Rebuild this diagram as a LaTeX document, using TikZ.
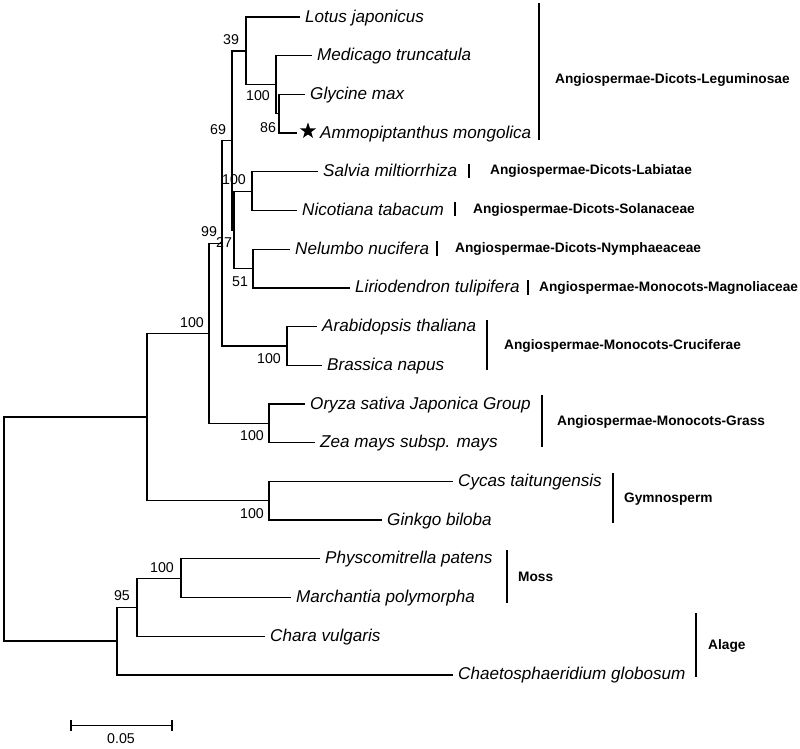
\documentclass[tikz,border=0pt]{standalone}
\usepackage{fontspec}
\setmainfont{Liberation Sans}
\usetikzlibrary{shapes.geometric}

\begin{document}
\begin{tikzpicture}[x=1pt, y=-1pt,
    branch/.style={black, line width=1.3pt},
    bar/.style={black, line width=2.3pt},
    taxon/.style={anchor=west, inner xsep=5pt, inner ysep=0pt, text height=10pt, text depth=0pt,
                  font=\fontsize{17.1}{20}\selectfont\itshape},
    group/.style={anchor=west, inner sep=0pt, text height=9.8pt, text depth=0pt,
                  font=\fontsize{13.7}{16}\selectfont\bfseries},
    boot/.style={inner sep=0pt, font=\fontsize{14.2}{16}\selectfont}]
            \useasboundingbox (0,0) rectangle (800,748);

            % inner nodes
            \coordinate (root) at (4,529);
            \coordinate (seed) at (147,417);
            \coordinate (angio) at (209,333.25);
            \coordinate (core) at (222,243.15);
            \coordinate (dicot) at (232,140.35);
            \coordinate (leg) at (246,50.85);
            \coordinate (legb) at (276,84.7);
            \coordinate (legc) at (279,113.75);
            \coordinate (mixed) at (234,229.85);
            \coordinate (labsol) at (252,191.15);
            \coordinate (nymmag) at (253,268.55);
            \coordinate (cruc) at (287,345.95);
            \coordinate (grass) at (269,423.35);
            \coordinate (gymno) at (269,500.75);
            \coordinate (nonseed) at (117,641);
            \coordinate (mosschara) at (137,607.2);
            \coordinate (moss) at (181,578.15);
            \coordinate (ammoend) at (297,133.1);

            % leaves
            \node[taxon] (lotus) at (300,17) {Lotus japonicus};
            \node[taxon] (medicago) at (312,55.7) {Medicago truncatula};
            \node[taxon] (glycine) at (305,94.4) {Glycine max};
            \node[star, star points=5, star point ratio=2.5, fill=black, inner sep=0pt, minimum size=17pt] (star) at (308,131) {};
            \node[taxon] (ammo) at (315,133.1) {Ammopiptanthus mongolica};
            \node[taxon] (salvia) at (318,171.8) {Salvia miltiorrhiza};
            \node[taxon] (nicotiana) at (297,210.5) {Nicotiana tabacum};
            \node[taxon] (nelumbo) at (290,249.2) {Nelumbo nucifera};
            \node[taxon] (lirio) at (350,287.9) {Liriodendron tulipifera};
            \node[taxon] (arab) at (317,326.6) {Arabidopsis thaliana};
            \node[taxon] (brassica) at (322,365.3) {Brassica napus};
            \node[taxon] (oryza) at (305,404) {Oryza sativa Japonica Group};
            \node[taxon] (zea) at (315,442.7) {Zea mays subsp. mays};
            \node[taxon] (cycas) at (453,481.4) {Cycas taitungensis};
            \node[taxon] (ginkgo) at (382,520.1) {Ginkgo biloba};
            \node[taxon] (physco) at (320,558.8) {Physcomitrella patens};
            \node[taxon] (march) at (291,597.5) {Marchantia polymorpha};
            \node[taxon] (chara) at (265,636.2) {Chara vulgaris};
            \node[taxon] (chaeto) at (453,674.9) {Chaetosphaeridium globosum};

            % branches
            \draw[branch] (root) |- (seed);
            \draw[branch] (root) |- (nonseed);
            \draw[branch] (seed) |- (angio);
            \draw[branch] (seed) |- (gymno);
            \draw[branch] (angio) |- (core);
            \draw[branch] (angio) |- (grass);
            \draw[branch] (core) |- (dicot);
            \draw[branch] (core) |- (cruc);
            \draw[branch] (dicot) |- (leg);
            \draw[branch] (dicot) |- (mixed);
            \draw[branch] (leg) |- (lotus.west);
            \draw[branch] (leg) |- (legb);
            \draw[branch] (legb) |- (medicago.west);
            \draw[branch] (legb) |- (legc);
            \draw[branch] (legc) |- (glycine.west);
            \draw[branch] (legc) |- (ammoend);
            \draw[branch] (mixed) |- (labsol);
            \draw[branch] (mixed) |- (nymmag);
            \draw[branch] (labsol) |- (salvia.west);
            \draw[branch] (labsol) |- (nicotiana.west);
            \draw[branch] (nymmag) |- (nelumbo.west);
            \draw[branch] (nymmag) |- (lirio.west);
            \draw[branch] (cruc) |- (arab.west);
            \draw[branch] (cruc) |- (brassica.west);
            \draw[branch] (grass) |- (oryza.west);
            \draw[branch] (grass) |- (zea.west);
            \draw[branch] (gymno) |- (cycas.west);
            \draw[branch] (gymno) |- (ginkgo.west);
            \draw[branch] (nonseed) |- (mosschara);
            \draw[branch] (nonseed) |- (chaeto.west);
            \draw[branch] (mosschara) |- (moss);
            \draw[branch] (mosschara) |- (chara.west);
            \draw[branch] (moss) |- (physco.west);
            \draw[branch] (moss) |- (march.west);

            % bootstrap values
            \node[boot] (bleg) at (231,40) {39};
            \node[boot] (blegb) at (258,96) {100};
            \node[boot] (blegc) at (268,127.5) {86};
            \node[boot] (bdicot) at (218,130) {69};
            \node[boot] (blabsol) at (234,180) {100};
            \node[boot] (bcore) at (209,232) {99};
            \node[boot] (bmixed) at (224,243) {27};
            \node[boot] (bnymmag) at (240,282) {51};
            \node[boot] (bangio) at (192,323) {100};
            \node[boot] (bcruc) at (269,359) {100};
            \node[boot] (bgrass) at (252,436) {100};
            \node[boot] (bgymno) at (252,513.5) {100};
            \node[boot] (bmoss) at (162,567.5) {100};
            \node[boot] (bmosschara) at (122,595.5) {95};

            % groups
            \draw[bar] (539,3) -- (539,140);
            \draw[bar] (469,164) -- (469,178);
            \draw[bar] (455,202) -- (455,216);
            \draw[bar] (437,241) -- (437,256);
            \draw[bar] (528,280) -- (528,295);
            \draw[bar] (487,320) -- (487,370);
            \draw[bar] (542,395) -- (542,447);
            \draw[bar] (613,473) -- (613,523);
            \draw[bar] (507,550) -- (507,603);
            \draw[bar] (696,613) -- (696,677);
            \node[group] (gleg) at (555,79) {Angiospermae-Dicots-Leguminosae};
            \node[group] (glab) at (490,170) {Angiospermae-Dicots-Labiatae};
            \node[group] (gsol) at (473,209) {Angiospermae-Dicots-Solanaceae};
            \node[group] (gnym) at (455,248) {Angiospermae-Dicots-Nymphaeaceae};
            \node[group] (gmag) at (539,287) {Angiospermae-Monocots-Magnoliaceae};
            \node[group] (gcru) at (504,345) {Angiospermae-Monocots-Cruciferae};
            \node[group] (ggra) at (557,421) {Angiospermae-Monocots-Grass};
            \node[group] (ggym) at (624,498) {Gymnosperm};
            \node[group] (gmos) at (518,577) {Moss};
            \node[group] (galg) at (708,645) {Alage};

            % scale
            \draw[branch] (71,720) -- (71,731) (71,725.5) -- (172,725.5) (172,720) -- (172,731);
            \node[boot] (scale) at (121,738.5) {0.05};
        \end{tikzpicture}
\end{document}
